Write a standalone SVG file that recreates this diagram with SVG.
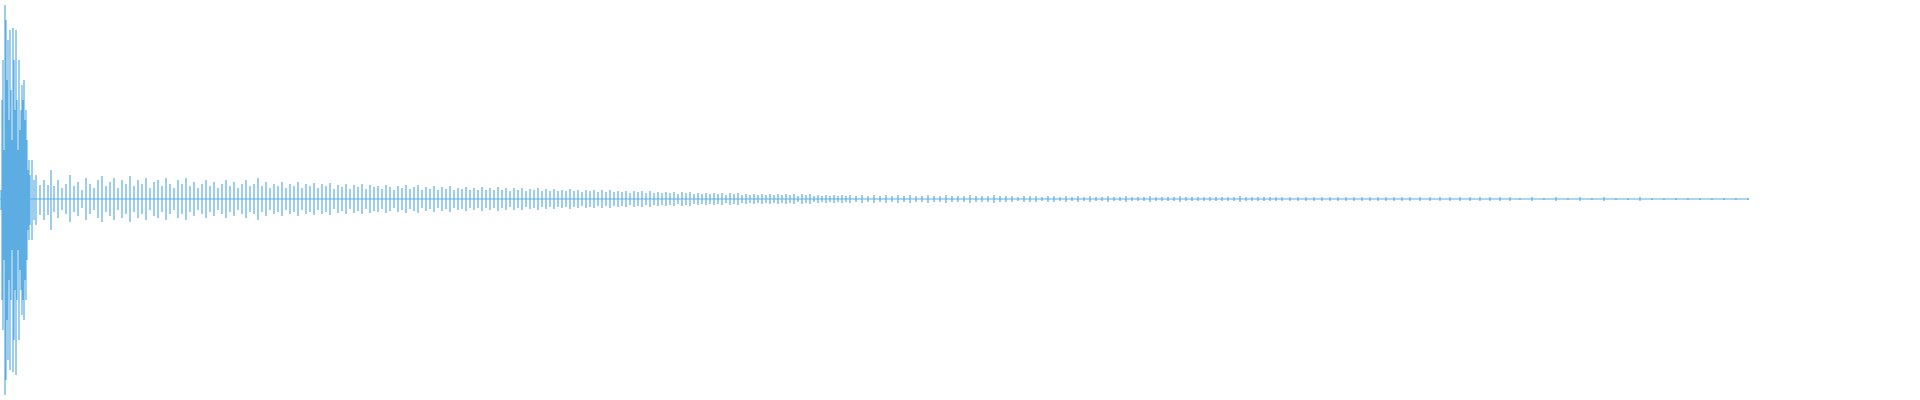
<svg xmlns="http://www.w3.org/2000/svg" width="1920" height="400" viewBox="0 0 1920 400">
<style>.w{stroke:#5dade2;stroke-width:1.2;fill:none}</style>
<rect width="1920" height="400" fill="#fff"/>
<g id="waveform" class="w">
<path d="M0 199H1749"/>
<path d="M1 190V210M2 100V300M3 60V330M4 150V260M5 5V395M6 20V380M7 80V320M8 40V360M9 120V280M10 30V370M11 90V300M12 140V250M13 28V372M14 60V340M15 110V290M16 30V375M17 100V300M18 150V250M19 60V340M20 130V270M21 110V290M22 85V315M23 100V300M24 80V320M25 120V280M26 110V300M27 140V260M28 170V230M29 160V240M30 175V225M32 160V240M34 180V220M36 175V225M40 185V215M44 180V220M48 185V215M51 170V230M54 186V212M58 180V218M62 188V210M66 184V214M70 175V222M74 186V212M78 182V216M82 190V208M86 178V220M90 184V214M94 188V210M98 180V218M102 176V222M106 186V212M110 182V216M114 178V220M118 188V210M122 180V218M126 184V214M130 176V222M134 186V212M138 180V218M142 184V214M146 178V220M150 188V210M154 182V216M158 180V218M162 186V212M166 178V220M170 184V214M174 188V210M178 180V218M182 184V214M186 178V220M190 186V212M194 182V216M198 188V210M202 184V214M206 180V218M210 186V212M214 182V216M218 188V210M222 184V214M226 180V218M230 186V212M234 182V216M238 188V210M242 184V214M246 180V218M250 186V212M254 184V214M258 178V220M262 186V212M266 182V216M270 188V210M274 184V214M278 186V212M282 182V216M286 188V210M290 184V214M294 186V212M298 182V216M302 188V210M306 184V214M310 186V212M314 183V215M318 188V210M322 184V214M326 186V212M330 183V215M334 189V209M338 185V213M342 187V211M346 184V214M350 189V209M354 185V213M358 187V211M362 184V214M366 189V209M370 185V213M374 187V211M378 186V212M382 189V209M386 185V213M390 187V211M394 190V208M398 186V212M402 188V210M406 185V213M410 189V209M414 187V211M418 185V213M422 190V208M426 187V211M430 189V209M434 186V212M438 190V208M442 187V211M446 189V209M450 186V212M454 190V208M458 188V210M462 189V209M466 187V211M470 190V208M474 188V210M478 190V208M482 187V211M486 190V208M490 188V210M494 190V208M498 187V211M502 190V208M506 188V210M510 191V207M514 188V210M518 190V208M522 188V210M526 191V207M530 189V209M534 190V208M538 188V210M542 191V207M546 189V209M550 191V207M554 189V209M558 191V207M562 190V208M566 191V207M570 189V209M574 191V207M578 190V208M582 192V206M586 190V208M590 191V207M594 190V208M598 192V206M602 190V208M606 192V206M610 190V208M614 192V206M618 191V207M622 192V206M626 191V207M630 193V205M634 191V207M638 192V206M642 191V207M646 193V205M650 191V207M654 193V205M658 192V206M662 193V205M666 192V206M670 193V205M674 192V206M678 194V204M682 192V206M686 193V205M690 192V206M694 194V204M698 193V205M702 194V204M706 193V205M710 194V204M714 193V205M718 194V204M722 193V205M726 195V203M730 193V205M734 194V204M738 193V205M742 195V203M746 194V204M750 195V203M754 194V204M758 195V203M762 194V204M766 195V203M770 194V204M774 195V203M778 194V204M782 195V203M786 194V204M790 195V203M794 194V204M798 196V202M802 194V204M806 195V203M810 194V204M814 196V202M818 195V203M822 196V202M826 195V203M830 196V202M834 195V203M838 196V202M842 195V203M846 196V202M850 195V203M856 196V202M862 195V203M868 196V202M874 195V203M880 196V202M886 195V203M892 196V202M898 195V203M904 196V202M910 195V203M916 196V202M922 196V202M928 195V203M934 196V202M940 196V202M946 195V203M952 196V202M958 196V202M964 196V202M970 195V203M976 196V202M982 196V202M988 196V202M994 195V203M1000 196V202M1006 196V202M1012 196V202M1018 197V201M1024 196V202M1030 196V202M1036 196V202M1042 197V201M1048 196V202M1054 196V202M1060 197V201M1066 196V202M1072 197V201M1078 196V202M1084 197V201M1090 196V202M1096 197V201M1102 197V201M1108 196V202M1114 197V201M1120 197V201M1126 196V202M1132 197V201M1138 197V201M1144 197V201M1150 196V202M1156 197V201M1162 197V201M1168 197V201M1174 197V201M1180 196V202M1186 197V201M1192 197V201M1198 197V201M1204 197V201M1210 197V201M1216 197V201M1222 197V201M1228 197V201M1234 197V201M1240 196V202M1246 197V201M1252 197V201M1258 197V201M1264 197V201M1270 197V201M1276 197V201M1282 197V201M1290 197V201M1298 197V201M1306 197V201M1314 197V201M1322 197V201M1330 197V201M1338 197V201M1346 197V201M1354 197V201M1362 197V201M1370 197V201M1378 197V201M1386 197V201M1394 197V201M1402 197V201M1410 197V201M1420 197V201M1430 197V201M1440 197V201M1450 197V201M1460 197V201M1470 197V201M1480 197V201M1490 197V201M1500 197V201M1510 197V201M1520 198V200M1532 197V201M1544 198V200M1556 197V201M1568 198V200M1580 197V201M1592 198V200M1604 197V201M1616 198V200M1628 198V200M1640 197V201M1652 198V200M1664 198V200M1676 198V200M1688 198V200M1700 198V200M1712 198V200M1724 198V200M1736 198V200M1748 198V200"/>
</g>
</svg>
